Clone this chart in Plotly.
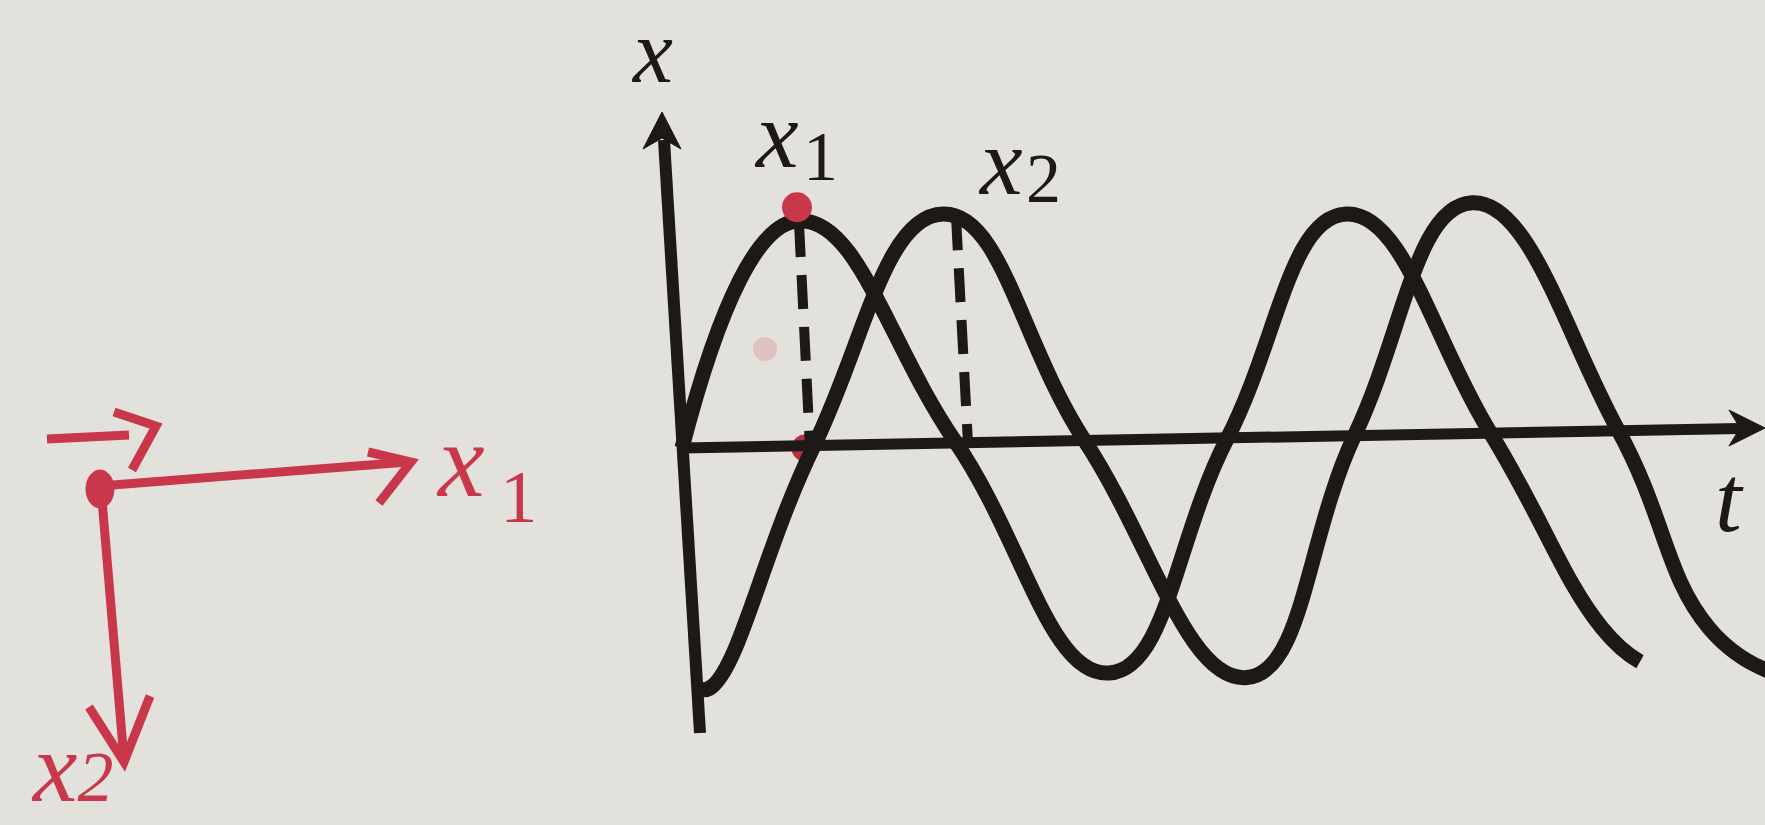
import plotly.graph_objects as go

W, H = 1765, 825

# Displacement curves: zero crossings and extrema (plus the tails), (t, x)
x1_t = [0.00, 1.16, 2.73, 4.27, 5.45, 6.64, 8.08, 9.20, 9.58]
x1_x = [0.00, 1.01, 0.03, -1.00, 0.04, 1.04, 0.07, -0.80, -0.95]
x2_t = [0.17, 0.30, 1.32, 2.61, 4.03, 5.65, 6.73, 7.90, 9.36, 10.27, 10.92]
x2_x = [-1.07, -1.06, 0.01, 1.04, 0.03, -1.02, 0.06, 1.09, 0.08, -0.80, -1.00]

# Dashed drop lines from the first maxima down to the t axis
drop1_t = [1.17, 1.28]
drop1_x = [1.00, 0.00]
drop2_t = [2.74, 2.86]
drop2_x = [1.03, 0.02]

# Red pen dots: on the x1 maximum and where the drop line meets the axis
pen_t = [1.15, 1.23]
pen_x = [1.07, 0.00]
smudge_t = [0.83]
smudge_x = [0.44]

INK = "#1c1917"
RED = "#c8384a"
PAPER = "#e2e1db"
SERIF = "Liberation Serif"

# the t/x frame: origin position and pixels per unit
T_ORIGIN, X_ORIGIN, T_UNIT, X_UNIT = 682, 448, 100, 225
t_range = [-T_ORIGIN / T_UNIT, (W - T_ORIGIN) / T_UNIT]
x_range = [-(H - X_ORIGIN) / X_UNIT, X_ORIGIN / X_UNIT]


def pp(x, y):
    """pixel -> paper fraction"""
    return x / W, 1 - y / H


def path(points, close=False):
    s = ""
    for i, (x, y) in enumerate(points):
        a, b = pp(x, y)
        s += ("M" if i == 0 else "L") + f"{a:.5f},{b:.5f} "
    return s + ("Z" if close else "")


fig = go.Figure()

fig.add_trace(go.Scatter(x=smudge_t, y=smudge_x, mode="markers",
                         marker=dict(size=24, color="rgba(215,120,135,0.30)"),
                         hoverinfo="skip"))
fig.add_trace(go.Scatter(x=pen_t[1:], y=pen_x[1:], mode="markers",
                         marker=dict(size=27, color="#b8303f"), hoverinfo="skip"))

for tt, xx in ((x1_t, x1_x), (x2_t, x2_x)):
    fig.add_trace(go.Scatter(x=tt, y=xx, mode="lines",
                             line=dict(color=INK, width=15, shape="spline", smoothing=1.3),
                             hoverinfo="skip"))

for tt, xx in ((drop1_t, drop1_x), (drop2_t, drop2_x)):
    fig.add_trace(go.Scatter(x=tt, y=xx, mode="lines",
                             line=dict(color=INK, width=10, dash="34px,18px"),
                             hoverinfo="skip"))

fig.add_trace(go.Scatter(x=pen_t[:1], y=pen_x[:1], mode="markers",
                         marker=dict(size=30, color=RED), hoverinfo="skip"))

shapes = []
# x axis (vertical) and t axis (horizontal) with arrowheads
shapes.append(dict(type="path", path=path([(700, 733), (664, 140)]),
                   line=dict(color=INK, width=12)))
shapes.append(dict(type="path", path=path([(662, 112), (681, 149), (662, 138), (643, 149)], True),
                   line=dict(color=INK, width=1), fillcolor=INK))
shapes.append(dict(type="path", path=path([(682, 448), (1740, 428.5)]),
                   line=dict(color=INK, width=11)))
shapes.append(dict(type="path", path=path([(1765, 428), (1729, 410), (1740, 428), (1729, 446)], True),
                   line=dict(color=INK, width=1), fillcolor=INK))

# red vector sketch on the left
red_strokes = [
    [(100, 486), (408, 462)],
    [(368, 452), (411, 462), (379, 503)],
    [(102, 500), (124, 760)],
    [(89, 707), (124, 762), (150, 696)],
    [(47, 439), (129, 435)],
    [(114, 412), (156, 426), (132, 470)],
]
for s in red_strokes:
    shapes.append(dict(type="path", path=path(s),
                       line=dict(color=RED, width=9)))
cx0, cy0 = pp(86, 470)
cx1, cy1 = pp(114, 508)
shapes.append(dict(type="circle", xref="paper", yref="paper",
                   x0=cx0, y0=cy0, x1=cx1, y1=cy1,
                   fillcolor=RED, line=dict(color=RED, width=1)))

for s in shapes:
    s.setdefault("xref", "paper")
    s.setdefault("yref", "paper")
    s["layer"] = "above"
fig.update_layout(shapes=shapes)

annotations = []


def label(text, cx, cy, size, color=INK, italic=True, yanchor="middle"):
    a, b = pp(cx, cy)
    annotations.append(dict(
        x=a, y=b, xref="paper", yref="paper", showarrow=False,
        text=f"<i>{text}</i>" if italic else text,
        font=dict(family=SERIF, size=size, color=color),
        xanchor="center", yanchor=yanchor))


label("x", 652, 0, 90, yanchor="top")
label("x", 776, 135, 96)
label("1", 820, 156, 70, italic=False)
label("x", 1000, 162, 96)
label("2", 1043, 178, 70, italic=False)
label("t", 1729, 498, 96)

label("x", 460, 460, 105, RED)
label("1", 519, 496, 75, RED, italic=False)
label("x<span style='font-size:72px'>2</span>", 72, H, 100, RED, yanchor="bottom")

fig.update_layout(
    annotations=annotations,
    width=W, height=H, autosize=False,
    margin=dict(l=0, r=0, t=0, b=0),
    paper_bgcolor=PAPER, plot_bgcolor=PAPER,
    showlegend=False,
    xaxis=dict(range=t_range, visible=False, fixedrange=True),
    yaxis=dict(range=x_range, visible=False, fixedrange=True),
)

fig.write_html("out.html", config={"displayModeBar": False})
